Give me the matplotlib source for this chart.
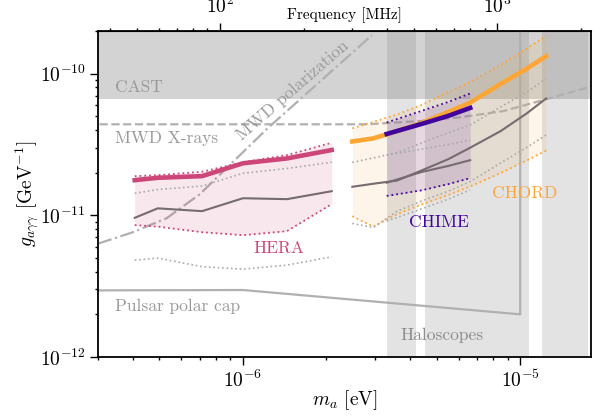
import numpy as np
import matplotlib
matplotlib.use("Agg")
import matplotlib.pyplot as plt
from matplotlib.ticker import NullFormatter

plt.rcParams['font.family'] = 'serif'
plt.rcParams['font.serif'] = ['cmr10']
plt.rcParams['mathtext.fontset'] = 'cm'
plt.rcParams['axes.formatter.use_mathtext'] = True


# %%
# photon frequency from axion decay, f = m c^2 / 2h  [MHz per eV]
M2F = 1.209e8

# HERA
hera_m = [4.07e-7, 4.93e-7, 7.12e-7, 1.0e-6, 1.44e-6, 2.09e-6]
hera_g = [1.77e-11, 1.84e-11, 1.89e-11, 2.33e-11, 2.52e-11, 2.89e-11]
hera_hi = [1.89e-11, 1.92e-11, 2.03e-11, 2.37e-11, 2.66e-11, 3.25e-11]
hera_lo = [8.53e-12, 8.32e-12, 7.60e-12, 7.24e-12, 7.73e-12, 1.20e-11]
hera_alt = [9.6e-12, 1.12e-11, 1.07e-11, 1.32e-11, 1.30e-11, 1.48e-11]
hera_alt_hi = [1.43e-11, 1.52e-11, 1.61e-11, 1.98e-11, 2.14e-11, 2.37e-11]
hera_alt_lo = [4.82e-12, 4.99e-12, 4.34e-12, 4.17e-12, 4.45e-12, 5.09e-12]

# CHORD
chord_m = [2.48e-6, 2.95e-6, 3.6e-6, 4.4e-6, 5.5e-6, 6.6e-6, 8.5e-6, 1.06e-5, 1.24e-5]
chord_g = [3.32e-11, 3.49e-11, 3.93e-11, 4.48e-11, 5.36e-11, 6.25e-11, 8.46e-11, 1.09e-10, 1.33e-10]
chord_hi = [4.11e-11, 4.56e-11, 5.15e-11, 6.01e-11, 7.43e-11, 8.73e-11, 1.15e-10, 1.51e-10, 1.85e-10]
chord_lo = [9.86e-12, 8.32e-12, 1.02e-11, 1.19e-11, 1.39e-11, 1.60e-11, 1.99e-11, 2.45e-11, 2.86e-11]
chord_alt = [1.59e-11, 1.67e-11, 1.76e-11, 2.07e-11, 2.49e-11, 3.00e-11, 3.93e-11, 5.27e-11, 6.68e-11]
chord_alt_hi = [2.36e-11, 2.54e-11, 2.77e-11, 3.24e-11, 3.81e-11, 4.34e-11, 5.82e-11, 7.43e-11, 9.25e-11]
chord_alt_lo = [8.77e-12, 8.19e-12, 1.07e-11, 1.26e-11, 1.48e-11, 1.73e-11, 2.34e-11, 3.03e-11, 3.69e-11]

# CHIME
chime_m = [3.3e-6, 4.4e-6, 5.5e-6, 6.6e-6]
chime_g = [3.75e-11, 4.41e-11, 5.03e-11, 5.73e-11]
chime_hi = [4.52e-11, 5.45e-11, 6.31e-11, 7.25e-11]
chime_lo = [1.37e-11, 1.50e-11, 1.66e-11, 1.83e-11]
chime_alt = [1.70e-11, 2.02e-11, 2.23e-11, 2.45e-11]
chime_alt_hi = [2.66e-11, 2.93e-11, 3.16e-11, 3.40e-11]
chime_alt_lo = [9.1e-12, 1.11e-11, 1.30e-11, 1.51e-11]

# existing bounds
cast_g = 6.6e-11
mwdx_m = [2.5e-7, 2.8e-6, 4.36e-6, 6.07e-6, 8.69e-6, 1.25e-5, 1.79e-5, 2.0e-5]
mwdx_g = [4.39e-11, 4.39e-11, 4.63e-11, 4.92e-11, 5.44e-11, 6.62e-11, 8.09e-11, 8.9e-11]
mwdp_m = [3.0e-7, 4.01e-7, 5.31e-7, 6.99e-7, 9.2e-7, 1.23e-6, 2.92e-6]
mwdp_g = [6.31e-12, 7.6e-12, 9.55e-12, 1.41e-11, 2.38e-11, 4.13e-11, 1.87e-10]
pulsar_m = [2.5e-7, 1.0e-6, 1.0e-5, 1.0e-5]
pulsar_g = [2.95e-12, 2.97e-12, 2.0e-12, 1e-9]
halo_lo = [3.30e-6, 4.54e-6, 1.20e-5]
halo_hi = [4.21e-6, 1.076e-5, 1.75e-5]

c_chime = '#41049d'
c_hera = '#cc4778'
c_chord = '#fca636'
c_alt = '#766b6f'
c_altdot = '#aaaaaa'
c_bound = '#b0b0b0'
c_text = '#999999'


# %%
fig = plt.figure(figsize=(6, 4.17), dpi=100)
ax = fig.add_axes([0.1633, 0.1439, 0.8217, 0.7818])
ax.set_xscale('log')
ax.set_yscale('log')
ax.set_xlim(3.0e-7, 1.8e-5)
ax.set_ylim(1e-12, 2e-10)

ax.axhspan(cast_g, 1, color='lightgray', lw=0, zorder=0)
for lo, hi in zip(halo_lo, halo_hi):
    ax.axvspan(lo, hi, color='gray', alpha=0.22, lw=0, zorder=0.5)

ax.plot(mwdx_m, mwdx_g, ls='--', color=c_bound, lw=1.6, zorder=1)
ax.plot(mwdp_m, mwdp_g, ls='-.', color=c_bound, lw=1.6, zorder=1)
ax.plot(pulsar_m, pulsar_g, ls='-', color=c_bound, lw=1.6, zorder=1)

for m, g, hi, lo, alt, ahi, alo, c, fa in [
        (hera_m, hera_g, hera_hi, hera_lo, hera_alt, hera_alt_hi, hera_alt_lo, c_hera, 0.12),
        (chord_m, chord_g, chord_hi, chord_lo, chord_alt, chord_alt_hi, chord_alt_lo, c_chord, 0.1),
        (chime_m, chime_g, chime_hi, chime_lo, chime_alt, chime_alt_hi, chime_alt_lo, c_chime, 0.12)]:
    ax.fill_between(m, lo, hi, color=c, alpha=fa, lw=0, zorder=1.5)
    ax.plot(m, hi, ls=':', color=c, lw=1.3, zorder=2)
    ax.plot(m, lo, ls=':', color=c, lw=1.3, zorder=2)
    ax.plot(m, alt, ls='-', color=c_alt, lw=1.5, zorder=2)
    ax.plot(m, ahi, ls=':', color=c_altdot, lw=1.2, zorder=2)
    ax.plot(m, alo, ls=':', color=c_altdot, lw=1.2, zorder=2)
    ax.plot(m, g, ls='-', color=c, lw=3.3, zorder=3)

fs = 12.5
ax.text(0.034, 0.828, 'CAST', color=c_text, fontsize=fs, va='center', transform=ax.transAxes)
ax.text(0.034, 0.672, 'MWD X-rays', color=c_text, fontsize=fs, va='center', transform=ax.transAxes)
ax.text(0.034, 0.156, 'Pulsar polar cap', color=c_text, fontsize=fs, va='center', transform=ax.transAxes)
ax.text(0.697, 0.065, 'Haloscopes', color='#8c8c8c', fontsize=fs, ha='center', va='center', transform=ax.transAxes)
ax.text(0.396, 0.819, 'MWD polarization', color=c_text, fontsize=fs, ha='center', va='center',
        rotation=41, transform=ax.transAxes)
ax.text(0.367, 0.334, 'HERA', color=c_hera, fontsize=fs, ha='center', va='center', transform=ax.transAxes)
ax.text(0.692, 0.412, 'CHIME', color=c_chime, fontsize=fs, ha='center', va='center', transform=ax.transAxes)
ax.text(0.866, 0.502, 'CHORD', color=c_chord, fontsize=fs, ha='center', va='center', transform=ax.transAxes)

ax.set_xlabel(r'$m_a$ [eV]', fontsize=14, labelpad=-2)
ax.set_ylabel(r'$g_{a\gamma\gamma}$ [GeV$^{-1}$]', fontsize=14, labelpad=-1)
ax.tick_params(which='both', direction='out', labelsize=14, width=1)
ax.tick_params(which='major', length=5.5)
ax.tick_params(which='minor', length=2.5)
ax.xaxis.set_minor_formatter(NullFormatter())
ax.yaxis.set_minor_formatter(NullFormatter())
for s in ax.spines.values():
    s.set_linewidth(1.3)

secax = ax.secondary_xaxis('top', functions=(lambda m: m * M2F, lambda f: f / M2F))
secax.tick_params(which='both', direction='out', labelsize=14, width=1, pad=4.5)
secax.tick_params(which='major', length=5.5)
secax.tick_params(which='minor', length=2.5)
secax.xaxis.set_minor_formatter(NullFormatter())
fig.text(344 / 600, 1 - 15 / 417, 'Frequency [MHz]', fontsize=11, ha='center', va='center')

fig.savefig('out.png', dpi=100)
